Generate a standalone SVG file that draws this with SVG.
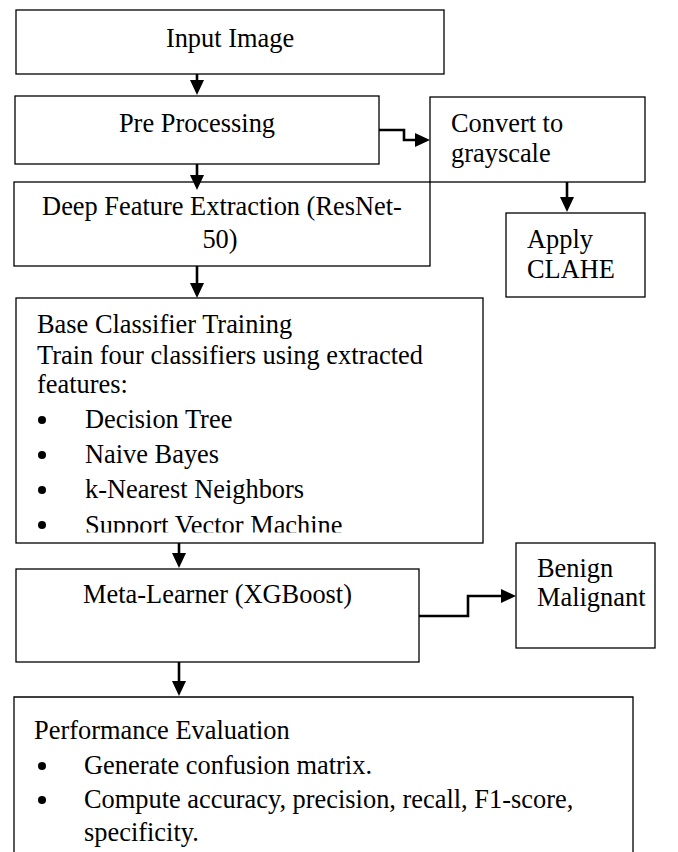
<svg xmlns="http://www.w3.org/2000/svg" width="678" height="852" viewBox="0 0 678 852">
<style>
.box{fill:#fff;stroke:#000;stroke-width:1.3}
.t{font-family:"Liberation Serif","Times New Roman",serif;font-size:26.4px;fill:#000}
.c{text-anchor:middle}
.con{fill:none;stroke:#000;stroke-width:2.6;marker-end:url(#ah)}
.dot{fill:#000}
</style>
<defs>
<marker id="ah" viewBox="0 0 15 14" refX="1" refY="7" markerWidth="15" markerHeight="14" markerUnits="userSpaceOnUse" orient="auto">
<path d="M0,0 L15,7 L0,14 z" fill="#000"/>
</marker>
<clipPath id="clip4"><rect x="16" y="298" width="467" height="234.5"/></clipPath>
</defs>
<rect width="678" height="852" fill="#fff"/>

<g id="input">
<rect class="box" x="16" y="10" width="428" height="64"/>
<text class="t c" x="230" y="47">Input Image</text>
</g>

<g id="preprocessing">
<rect class="box" x="15" y="96" width="364" height="68"/>
<text class="t c" x="197" y="132">Pre Processing</text>
</g>

<g id="feature">
<rect class="box" x="14" y="182" width="416" height="84"/>
<text class="t c" x="222" y="215">Deep Feature Extraction (ResNet-</text>
<text class="t c" x="220" y="248">50)</text>
</g>

<g id="grayscale">
<rect class="box" x="430" y="97" width="215" height="85"/>
<text class="t" x="451" y="132">Convert to</text>
<text class="t" x="451" y="162">grayscale</text>
</g>

<g id="clahe">
<rect class="box" x="506" y="213" width="139" height="84"/>
<text class="t" x="527" y="248">Apply</text>
<text class="t" x="527" y="278">CLAHE</text>
</g>

<g id="base">
<rect class="box" x="16" y="298" width="467" height="245"/>
<g clip-path="url(#clip4)">
<text class="t" x="37" y="333">Base Classifier Training</text>
<text class="t" x="37" y="364">Train four classifiers using extracted</text>
<text class="t" x="37" y="393">features:</text>
<circle class="dot" cx="42" cy="420" r="4"/>
<text class="t" x="85" y="428">Decision Tree</text>
<circle class="dot" cx="42" cy="455" r="4"/>
<text class="t" x="85" y="463">Naive Bayes</text>
<circle class="dot" cx="42" cy="490" r="4"/>
<text class="t" x="85" y="498">k-Nearest Neighbors</text>
<circle class="dot" cx="42" cy="525" r="4"/>
<text class="t" x="85" y="533.5">Support Vector Machine</text>
</g>
</g>

<g id="meta">
<rect class="box" x="16" y="569" width="403" height="93"/>
<text class="t c" x="217.5" y="603">Meta-Learner (XGBoost)</text>
</g>

<g id="output">
<rect class="box" x="516" y="543" width="139" height="105"/>
<text class="t" x="537" y="577">Benign</text>
<text class="t" x="537" y="606">Malignant</text>
</g>

<g id="evaluation">
<path class="box" d="M14,860 V697 H633 V860"/>
<text class="t" x="34" y="739">Performance Evaluation</text>
<circle class="dot" cx="42" cy="766" r="4"/>
<text class="t" x="84" y="774">Generate confusion matrix.</text>
<circle class="dot" cx="42" cy="800" r="4"/>
<text class="t" x="84" y="808">Compute accuracy, precision, recall, F1-score,</text>
<text class="t" x="84" y="841">specificity.</text>
</g>

<g id="connectors">
<path class="con" d="M197,74 V81"/>
<path class="con" d="M197,164 V176"/>
<path class="con" d="M197,266 V284"/>
<path class="con" d="M567,182 V198"/>
<path class="con" d="M179,543 V554"/>
<path class="con" d="M179,662 V682"/>
<path class="con" d="M379,130 H404 V140 H416"/>
<path class="con" d="M419,616 H468 V596 H502"/>
</g>
</svg>
